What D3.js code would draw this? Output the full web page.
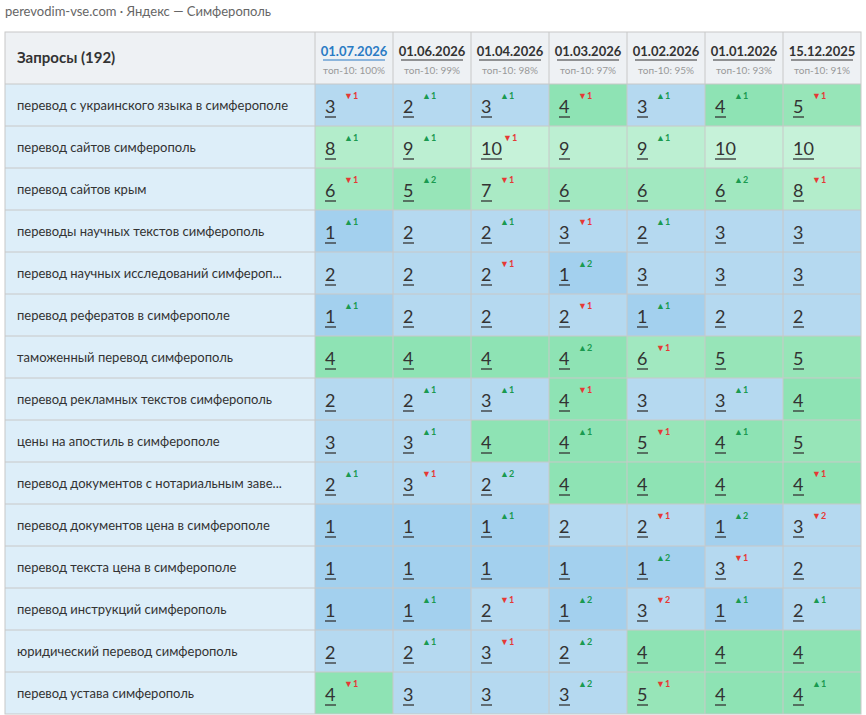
<!DOCTYPE html>
<html><head><meta charset="utf-8">
<script src="https://cdn.jsdelivr.net/npm/d3@7"></script>
<style>
body{margin:0;background:#fff;font-family:Lato,"Open Sans",sans-serif;}
</style></head><body><div id="chart"></div>
<script>
var w=866, h=715;
var dates=["01.07.2026","01.06.2026","01.04.2026","01.03.2026","01.02.2026","01.01.2026","15.12.2025"];
var top10=["топ-10: 100%","топ-10: 99%","топ-10: 98%","топ-10: 97%","топ-10: 95%","топ-10: 93%","топ-10: 91%"];
var queries=["перевод с украинского языка в симферополе","перевод сайтов симферополь","перевод сайтов крым",
"переводы научных текстов симферополь","перевод научных исследований симфероп...","перевод рефератов в симферополе",
"таможенный перевод симферополь","перевод рекламных текстов симферополь","цены на апостиль в симферополе",
"перевод документов с нотариальным заве...","перевод документов цена в симферополе","перевод текста цена в симферополе",
"перевод инструкций симферополь","юридический перевод симферополь","перевод устава симферополь"];
var positions=[[3,2,3,4,3,4,5],[8,9,10,9,9,10,10],[6,5,7,6,6,6,8],[1,2,2,3,2,3,3],[2,2,2,1,3,3,3],
[1,2,2,2,1,2,2],[4,4,4,4,6,5,5],[2,2,3,4,3,3,4],[3,3,4,4,5,4,5],[2,3,2,4,4,4,4],[1,1,1,2,2,1,3],
[1,1,1,1,1,3,2],[1,1,2,1,3,1,2],[2,2,3,2,4,4,4],[4,3,3,3,5,4,4]];
var changes=[[-1,1,1,-1,1,1,-1],[1,1,-1,0,1,0,0],[-1,2,-1,0,0,2,-1],[1,0,1,-1,1,0,0],[0,0,-1,2,0,0,0],
[1,0,0,-1,1,0,0],[0,0,0,2,-1,0,0],[0,1,1,-1,0,1,0],[0,1,0,1,-1,1,0],[1,-1,2,0,0,0,-1],[0,0,1,0,-1,2,-2],
[0,0,0,0,2,-1,0],[0,1,-1,2,-2,1,1],[0,1,-1,2,0,0,0],[-1,0,0,2,-1,0,1]];

var svg=d3.select("#chart").append("svg").attr("width",w).attr("height",h);
svg.append("text").attr("x",5).attr("y",16).attr("font-size",13).attr("fill","#666").text("perevodim-vse.com · Яндекс — Симферополь");

var x0=5, firstW=310, topY=32, headH=52;
var x=d3.scaleBand().domain(d3.range(dates.length)).range([x0+firstW,861]);
var y=d3.scaleBand().domain(d3.range(queries.length)).range([topY+headH,714]);
var color=d3.scaleOrdinal().domain(d3.range(1,11))
  .range(["#a3d0ee","#b5d9f0","#b5d9f0","#8ee3b4","#97e5b8","#a1e8c0","#aaeac5","#b3edcb","#bcefd2","#c6f2d9"]);

// header
svg.append("rect").attr("x",x0).attr("y",topY).attr("width",856).attr("height",headH).attr("fill","#eef1f4");
svg.append("text").attr("x",17).attr("y",topY+headH/2+5).attr("font-size",15).attr("font-weight","bold").attr("fill","#333").text("Запросы (192)");
var hd=svg.selectAll(".hd").data(dates).enter().append("g").attr("transform",function(d,i){return "translate("+(x(i)+x.bandwidth()/2)+","+topY+")";});
hd.append("text").attr("y",24).attr("text-anchor","middle").attr("font-size",13).attr("font-weight","bold")
  .attr("fill",function(d,i){return i==0?"#2a7bc4":"#333";}).text(function(d){return d;});
hd.append("line").attr("x1",-31).attr("x2",31).attr("y1",28).attr("y2",28).attr("stroke",function(d,i){return i==0?"#2a7bc4":"#333";});
hd.append("text").attr("y",42).attr("text-anchor","middle").attr("font-size",10).attr("fill","#999").text(function(d,i){return top10[i];});

// rows
var row=svg.selectAll(".row").data(queries).enter().append("g").attr("transform",function(d,i){return "translate(0,"+y(i)+")";});
row.append("rect").attr("x",x0).attr("width",firstW).attr("height",y.bandwidth()).attr("fill","#ddeef9");
row.append("text").attr("x",17).attr("y",y.bandwidth()/2+5).attr("font-size",13).attr("fill","#333").text(function(d){return d;});

var cell=row.selectAll(".cell").data(function(d,i){return positions[i].map(function(p,j){return {p:p,c:changes[i][j],j:j};});})
  .enter().append("g").attr("transform",function(d){return "translate("+x(d.j)+",0)";});
cell.append("rect").attr("width",x.bandwidth()).attr("height",y.bandwidth()).attr("fill",function(d){return color(d.p);});
cell.append("text").attr("x",10).attr("y",y.bandwidth()/2+8).attr("font-size",18).attr("fill","#333").text(function(d){return d.p;});
cell.append("line").attr("x1",10).attr("x2",function(d){return d.p>9?31:21;}).attr("y1",y.bandwidth()/2+12).attr("y2",y.bandwidth()/2+12).attr("stroke","#333").attr("stroke-width",1.3);
cell.filter(function(d){return d.c!=0;}).append("text")
  .attr("x",function(d){return d.p>9?32:29;}).attr("y",y.bandwidth()/2-6).attr("font-size",9).attr("font-weight","bold")
  .attr("fill",function(d){return d.c>0?"#1a9a50":"#e53935";})
  .text(function(d){return (d.c>0?"▲":"▼")+Math.abs(d.c);});

// grid
var g=svg.append("g").attr("stroke","#c8c8c8").attr("fill","none");
x.domain().forEach(function(i){g.append("line").attr("x1",x(i)).attr("x2",x(i)).attr("y1",topY).attr("y2",714);});
y.domain().forEach(function(i){g.append("line").attr("x1",x0).attr("x2",861).attr("y1",y(i)).attr("y2",y(i));});
g.append("rect").attr("x",x0).attr("y",topY).attr("width",856).attr("height",682);
</script></body></html>
